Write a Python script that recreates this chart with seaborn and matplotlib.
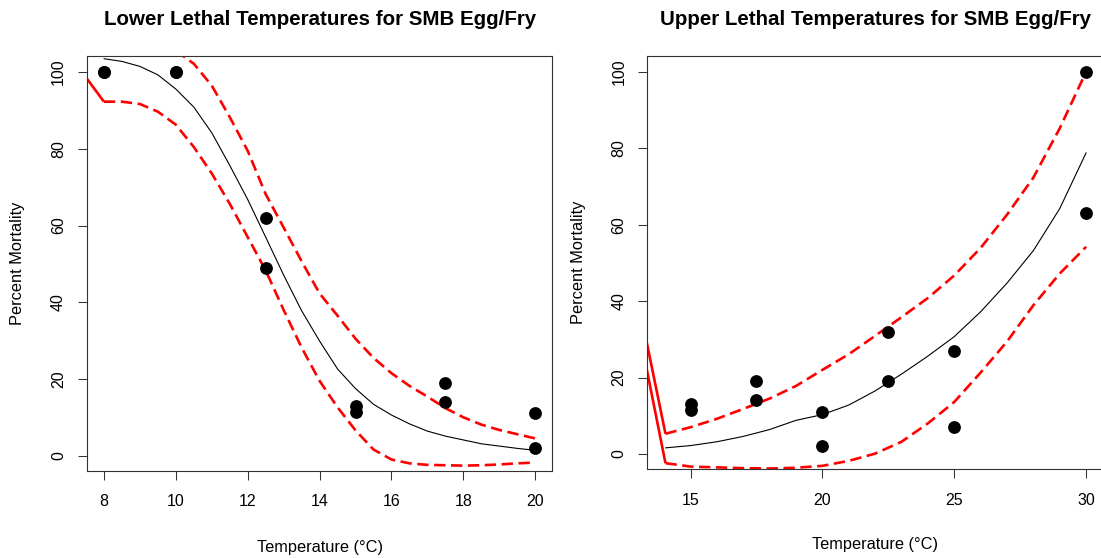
import matplotlib
matplotlib.use("Agg")
import matplotlib.pyplot as plt
import seaborn as sns

# ---- lower lethal panel ----
lower_obs_temp = [8, 8, 10, 10, 12.5, 12.5, 15, 15, 17.5, 17.5, 20, 20]
lower_obs_mort = [100, 100, 100, 100, 62, 49, 13, 11.5, 19, 14, 11, 2]

lower_fit_temp = [8, 8.5, 9, 9.5, 10, 10.5, 11, 11.5, 12, 12.5, 13, 13.5, 14,
                  14.5, 15, 15.5, 16, 16.5, 17, 17.5, 18, 18.5, 19, 19.5, 20]
lower_fit_mort = [103.5, 102.8, 101.5, 99.3, 95.6, 90.9, 84.2, 75.7, 66.8, 57.0,
                  47.1, 37.8, 29.9, 22.6, 17.5, 13.4, 10.6, 8.3, 6.4, 5.1, 4.1,
                  3.1, 2.5, 1.9, 1.4]
lower_ci_hi_temp = [10, 10.5, 11, 11.5, 12, 12.5, 13, 13.5, 14, 14.5, 15, 15.5,
                    16, 16.5, 17, 17.5, 18, 18.5, 19, 19.5, 20]
lower_ci_hi_mort = [105.6, 102.2, 96.5, 88.3, 79.5, 68.2, 59.5, 50.7, 42.3, 36.5,
                    30.5, 25.5, 21.5, 18.2, 15.4, 12.4, 10.0, 8.1, 6.7, 5.6, 4.5]
lower_ci_lo_temp = lower_fit_temp
lower_ci_lo_mort = [92.3, 92.3, 91.7, 89.7, 86.3, 80.5, 73.6, 65.7, 57.0, 48.3,
                    38.0, 28.2, 19.5, 12.6, 6.6, 1.6, -1.0, -2.0, -2.4, -2.5,
                    -2.6, -2.5, -2.3, -2.0, -1.8]
# solid red piece coming in from the left edge
lower_lead_temp = [7.0, 8.0]
lower_lead_mort = [105.0, 92.3]

# ---- upper lethal panel ----
upper_obs_temp = [15, 15, 17.5, 17.5, 20, 20, 22.5, 22.5, 25, 25, 30, 30]
upper_obs_mort = [13, 11.5, 19, 14, 11, 2, 32, 19, 27, 7, 100, 63]

upper_fit_temp = [14.05, 15, 16, 17, 18, 19, 20, 21, 22, 23, 24, 25, 26, 27,
                  28, 29, 30]
upper_fit_mort = [1.6, 2.2, 3.2, 4.6, 6.4, 8.8, 10.3, 12.8, 16.5, 20.9, 25.6,
                  30.7, 37.2, 44.7, 53.2, 64.2, 78.8]
upper_ci_hi_mort = [5.3, 7.0, 9.2, 11.8, 14.5, 17.8, 22.0, 26.1, 30.9, 35.8,
                    40.8, 46.7, 53.9, 62.6, 72.3, 85.2, 100.0]
upper_ci_lo_mort = [-2.4, -3.3, -3.5, -3.7, -3.8, -3.6, -3.1, -1.8, 0.1, 3.2,
                    8.0, 13.6, 21.3, 29.4, 38.9, 47.2, 54.2]
upper_lead_temp = [13.0, 14.05]
upper_lead_hi_mort = [40.6, 5.3]
upper_lead_lo_mort = [33.9, -2.4]

RED = "#ff0000"
DASH = (0, (4.3, 2.1))
EDGE = "#333333"


def draw_panel(ax, obs_x, obs_y, fit_x, fit_y, bands, leads, xlim, xticks, title):
    for lx, ly in leads:
        sns.lineplot(x=lx, y=ly, ax=ax, color=RED, lw=1.9, sort=False,
                     estimator=None, solid_capstyle="butt")
    for bx, by in bands:
        sns.lineplot(x=bx, y=by, ax=ax, color=RED, lw=1.9, sort=False,
                     estimator=None, linestyle=DASH, dash_capstyle="butt")
    sns.lineplot(x=fit_x, y=fit_y, ax=ax, color="black", lw=0.8, sort=False,
                 estimator=None)
    sns.scatterplot(x=obs_x, y=obs_y, ax=ax, color="black", s=85,
                    linewidth=0, zorder=3)

    ax.set_xlim(*xlim)
    ax.set_ylim(-4, 104.2)
    ax.set_xticks(xticks)
    ax.set_xticklabels([str(t) for t in xticks])
    ax.set_yticks([0, 20, 40, 60, 80, 100])
    ax.tick_params(length=6.8, width=0.75, color=EDGE, labelsize=11.5,
                   labelcolor="black")
    ax.tick_params(axis="x", pad=10)
    ax.tick_params(axis="y", pad=8, labelrotation=90)
    for lab in ax.get_yticklabels():
        lab.set_va("center")
    for sp in ax.spines.values():
        sp.set_visible(True)
        sp.set_color(EDGE)
        sp.set_linewidth(0.8)

    ax.set_xlabel("Temperature (°C)", fontsize=11.8, va="center", color="black")
    ax.set_ylabel("Percent Mortality", fontsize=11.8, va="center", color="black")
    ax.text(0.5, 1.0747, title, transform=ax.transAxes, ha="center",
            va="baseline", fontsize=14.8, fontweight="bold", color="black")


sns.set_style("ticks")
plt.rcParams["font.family"] = ["Liberation Sans", "DejaVu Sans"]
plt.rcParams["text.color"] = "black"

fig = plt.figure(figsize=(11.01, 5.58), dpi=100)
ax1 = fig.add_axes([0.0787, 0.1559, 0.4231, 0.7437])
ax2 = fig.add_axes([0.5879, 0.1590, 0.4139, 0.7412])

draw_panel(ax1, lower_obs_temp, lower_obs_mort, lower_fit_temp, lower_fit_mort,
           [(lower_ci_hi_temp, lower_ci_hi_mort), (lower_ci_lo_temp, lower_ci_lo_mort)],
           [(lower_lead_temp, lower_lead_mort)],
           (7.52, 20.48), [8, 10, 12, 14, 16, 18, 20],
           "Lower Lethal Temperatures for SMB Egg/Fry")
ax1.xaxis.set_label_coords(0.5, -0.1855)
ax1.yaxis.set_label_coords(-0.1475, 0.5)

draw_panel(ax2, upper_obs_temp, upper_obs_mort, upper_fit_temp, upper_fit_mort,
           [(upper_fit_temp, upper_ci_hi_mort), (upper_fit_temp, upper_ci_lo_mort)],
           [(upper_lead_temp, upper_lead_hi_mort), (upper_lead_temp, upper_lead_lo_mort)],
           (13.36, 30.64), [15, 20, 25, 30],
           "Upper Lethal Temperatures for SMB Egg/Fry")
ax2.xaxis.set_label_coords(0.5, -0.183)
ax2.yaxis.set_label_coords(-0.1499, 0.5)

fig.savefig("out.png", dpi=100, facecolor="white")
